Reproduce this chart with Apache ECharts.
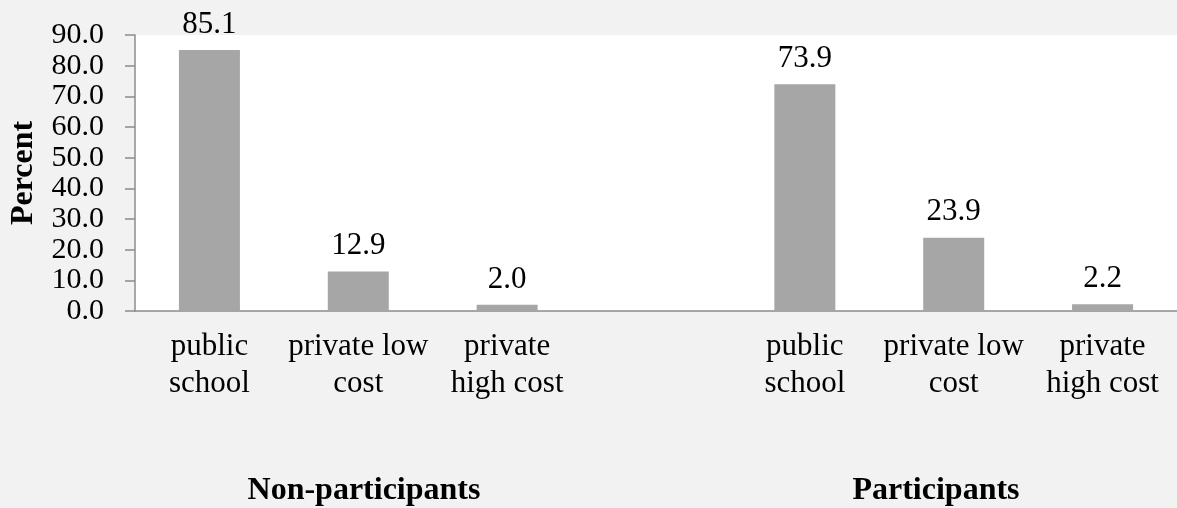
<!DOCTYPE html>
<html>
<head>
<meta charset="utf-8">
<script src="https://cdn.jsdelivr.net/npm/echarts@6/dist/echarts.min.js"></script>
<style>
html,body{margin:0;padding:0;background:#f2f2f2;}
#chart{width:1177px;height:508px;}
</style>
</head>
<body>
<div id="chart"></div>
<script>
const categories = ['public\nschool', 'private low\ncost', 'private\nhigh cost', '', 'public\nschool', 'private low\ncost', 'private\nhigh cost'];
const percentValues = [85.1, 12.9, 2.0, null, 73.9, 23.9, 2.2];
const yTickMin = 0, yTickMax = 90, yTickStep = 10;
const groupLabels = ['Non-participants', 'Participants'];
const yAxisTitle = 'Percent';

const FONT = '"Liberation Serif", "Times New Roman", serif';
const chart = echarts.init(document.getElementById('chart'));
chart.setOption({
  backgroundColor: '#f2f2f2',
  animation: false,
  grid: { left: 132, top: 35, height: 276, width: 1050, show: true, backgroundColor: '#ffffff', borderWidth: 0 },
  xAxis: {
    type: 'category',
    data: categories,
    axisLine: { show: true, lineStyle: { color: '#8c8c8c', width: 1.5 } },
    axisTick: { show: false },
    axisLabel: { interval: 0, fontFamily: FONT, fontSize: 31, lineHeight: 37, color: '#000', margin: 17 }
  },
  yAxis: {
    type: 'value',
    min: yTickMin, max: yTickMax, interval: yTickStep,
    name: yAxisTitle,
    nameLocation: 'middle',
    nameGap: 95,
    nameTextStyle: { fontFamily: FONT, fontSize: 32, fontWeight: 'bold', color: '#000' },
    axisLine: { show: true, lineStyle: { color: '#8c8c8c', width: 1.5 } },
    axisTick: { show: true, length: 10, lineStyle: { color: '#8c8c8c', width: 1.5 } },
    splitLine: { show: false },
    axisLabel: { fontFamily: FONT, fontSize: 30, color: '#000', margin: 31, formatter: v => v.toFixed(1) }
  },
  series: [{
    type: 'bar',
    data: percentValues,
    barWidth: 61,
    itemStyle: { color: '#a6a6a6' },
    label: { show: true, position: 'top', distance: 10, fontFamily: FONT, fontSize: 31, color: '#000',
      formatter: p => p.value == null ? '' : Number(p.value).toFixed(1) }
  }],
  graphic: [
    { type: 'text', x: 364, y: 491, style: { text: groupLabels[0], font: 'bold 32px ' + FONT, fill: '#000', textAlign: 'center', textVerticalAlign: 'middle' } },
    { type: 'text', x: 936, y: 491, style: { text: groupLabels[1], font: 'bold 32px ' + FONT, fill: '#000', textAlign: 'center', textVerticalAlign: 'middle' } }
  ]
});
</script>
</body>
</html>
